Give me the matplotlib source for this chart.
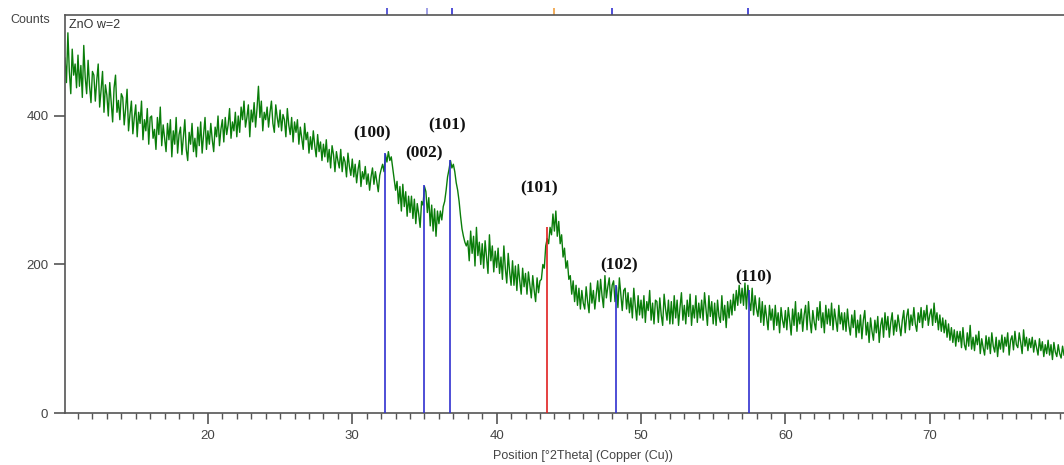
import matplotlib.pyplot as plt
import matplotlib.transforms as mtransforms
import numpy as np

# XRD scan of ZnO, 2theta from 10.1 to 79.3 deg (0.1 deg step), counts
theta_start = 10.1
theta_end = 79.3
counts = [
    478, 445, 512, 460, 430, 490, 455, 470, 438, 482,
    440, 468, 425, 495, 452, 430, 475, 441, 418, 460,
    455, 420, 448, 470, 412, 435, 460, 405, 442, 428,
    400, 445, 418, 392, 438, 455, 405, 421, 395, 430,
    425, 388, 410, 436, 380, 402, 420, 376, 398, 415,
    372, 405, 390, 420, 368, 395, 380, 410, 362, 398,
    400, 370, 382, 355, 398, 375, 412, 360, 388, 370,
    352, 390, 368, 395, 345, 380, 362, 398, 350, 375,
    385, 348, 372, 395, 355, 340, 378, 362, 390, 352,
    370, 345, 385, 360, 392, 350, 375, 398, 355, 380,
    362, 390, 368, 352, 385, 372, 400, 360, 382, 395,
    365, 398, 375, 388, 410, 370, 392, 380, 405, 372,
    400, 378, 412, 395, 420, 385, 398, 415, 372, 408,
    392, 418, 385, 410, 440, 398, 420, 380, 405, 395,
    412, 385, 405, 420, 390, 378, 415, 398, 385, 408,
    380, 402, 395, 372, 410, 388, 375, 398, 365, 392,
    378, 395, 362, 385, 370, 355, 390, 368, 378, 350,
    372, 355, 380, 360, 345, 375, 352, 365, 340, 362,
    345, 368, 338, 355, 330, 360, 348, 325, 352, 340,
    330, 355, 325, 345, 338, 318, 350, 332, 320, 342,
    318, 335, 310, 328, 340, 305, 325, 315, 332, 308,
    322, 300, 318, 330, 308, 325, 312, 298, 320, 328,
    335, 325, 348, 338, 352, 340, 345, 330, 315, 300,
    312, 282, 305, 272, 308, 278, 298, 265, 292, 270,
    292, 262, 288, 255, 282, 268, 250, 285, 280, 305,
    298, 270, 290, 252, 280, 245, 275, 238, 272, 255,
    272, 260, 278, 285, 300, 318, 328, 340, 330, 335,
    325, 310, 300, 285, 265, 248, 238, 230, 225, 232,
    205, 245, 215, 238, 198, 250, 212, 230, 200, 228,
    195, 232, 210, 188, 240, 205, 225, 190, 218, 196,
    222, 188, 210, 180, 225, 195, 175, 215, 190, 172,
    205, 172, 198, 165, 200, 178, 160, 195, 170, 188,
    160, 190, 172, 155, 185, 165, 150, 182, 162, 178,
    180, 200, 195, 225, 235, 228, 250, 240, 268, 245,
    272, 238, 258, 228, 240, 210, 222, 195, 205, 180,
    185, 160, 178, 150, 172, 145, 168, 140, 165, 148,
    140, 170, 150, 135, 175, 148, 165, 140, 160, 178,
    150, 180, 158, 142, 185, 155, 170, 182, 150, 172,
    178, 150, 170, 142, 182, 160, 138, 165, 168, 140,
    162, 135, 155, 128, 168, 145, 125, 158, 132, 152,
    128, 158, 122, 150, 138, 165, 125, 148, 120, 152,
    150, 122, 155, 132, 118, 160, 140, 125, 152, 120,
    150, 120, 158, 128, 152, 118, 142, 162, 125, 145,
    120, 152, 130, 160, 118, 145, 128, 158, 122, 148,
    128, 152, 125, 162, 140, 118, 158, 130, 150, 120,
    148, 118, 152, 130, 122, 158, 125, 145, 115, 150,
    128, 152, 132, 160, 138, 165, 145, 172, 148, 168,
    145, 175, 140, 172, 150, 138, 168, 132, 158, 140,
    130, 155, 122, 150, 118, 145, 128, 112, 145, 125,
    140, 112, 145, 118, 135, 108, 142, 125, 115, 138,
    112, 142, 125, 105, 140, 118, 150, 110, 135, 120,
    140, 110, 132, 145, 112, 150, 125, 108, 138, 122,
    112, 142, 125, 150, 115, 135, 108, 145, 120, 140,
    118, 148, 112, 140, 125, 110, 145, 120, 135, 112,
    135, 110, 140, 118, 105, 132, 115, 138, 102, 125,
    108, 132, 100, 125, 138, 105, 122, 95, 128, 110,
    98, 125, 108, 130, 95, 118, 128, 102, 135, 112,
    130, 102, 122, 135, 105, 125, 110, 132, 118, 104,
    125, 138, 108, 130, 140, 112, 132, 118, 142, 120,
    110, 135, 122, 142, 115, 138, 125, 145, 118, 132,
    140, 118, 148, 122, 135, 112, 132, 110, 128, 108,
    125, 102, 120, 98, 115, 95, 112, 90, 110, 96,
    110, 88, 115, 92, 85, 108, 90, 118, 86, 102,
    84, 105, 92, 110, 80, 100, 88, 78, 104, 86,
    102, 80, 108, 90, 82, 102, 76, 98, 86, 105,
    82, 102, 90, 108, 78, 98, 104, 85, 110, 92,
    88, 108, 95, 80, 112, 90, 102, 84, 100, 88,
    102, 82, 98, 88, 78, 100, 84, 96, 76, 92,
    80, 98, 78, 92, 72, 95, 82, 76, 92, 80,
    74, 90, 78,
]
two_theta = np.linspace(theta_start, theta_end, len(counts))

# reference peak sticks
peak_pos = [32.3, 35.0, 36.8, 43.5, 48.3, 57.5]
peak_height = [350, 307, 341, 250, 172, 166]
peak_colors = ['#3030d0', '#3030d0', '#3030d0', '#e02020', '#3030d0', '#3030d0']

# hkl labels
hkl_labels = ['(100)', '(002)', '(101)', '(101)', '(102)', '(110)']
hkl_x = [31.36, 34.96, 36.55, 42.92, 48.46, 57.81]
hkl_y = [377, 349, 387, 303, 199, 183]

# small markers above the top axis
mark_pos = [32.4, 35.2, 36.9, 44.0, 48.0, 57.4]
mark_colors = ['#4040d0', '#9090e0', '#3030d0', '#f0a040', '#3030d0', '#3030d0']

plt.rcParams['font.family'] = ['Liberation Sans', 'DejaVu Sans']

fig = plt.figure(figsize=(10.64, 4.65), dpi=100)
ax = fig.add_axes([65 / 1064, 1 - 413 / 465, 1 - 65 / 1064, (413 - 15) / 465])

ax.plot(two_theta, counts, color='#0a7d0a', linewidth=1.0, zorder=2)
ax.vlines(peak_pos, 0, peak_height, colors=peak_colors, linewidth=1.2, zorder=3)

for lab, x, y in zip(hkl_labels, hkl_x, hkl_y):
    ax.text(x, y, lab, ha='center', va='center', fontsize=12.5,
            fontweight='bold', family='Liberation Serif', color='#111111')

trans = mtransforms.blended_transform_factory(ax.transData, ax.transAxes)
ax.vlines(mark_pos, 1.0, 1.018, colors=mark_colors, linewidth=1.2,
          transform=trans, clip_on=False)

ax.set_xlim(theta_start, theta_end)
ax.set_ylim(0, 536)
ax.set_xticks([20, 30, 40, 50, 60, 70])
ax.set_xticks(np.arange(11, 80, 1), minor=True)
ax.set_yticks([0, 200, 400])

for s in ['left', 'bottom', 'top']:
    ax.spines[s].set_color('#555555')
    ax.spines[s].set_linewidth(1.2)
ax.spines['right'].set_visible(False)

ax.tick_params(axis='both', which='major', length=8, width=1.2, color='#555555',
               labelsize=9.5, labelcolor='#444444', pad=4)
ax.tick_params(axis='x', which='minor', length=4, width=1.0, color='#555555')

fig.text(10 / 1064, 1 - 20 / 465, 'Counts', fontsize=9, color='#444444', va='center')
ax.text(0.004, 0.99, 'ZnO w=2', transform=ax.transAxes, fontsize=9,
        color='#333333', va='top', ha='left')
fig.text(583 / 1064, 1 - 456 / 465, 'Position [°2Theta] (Copper (Cu))',
         fontsize=9, color='#444444', ha='center', va='center')

fig.savefig('out.png', dpi=100)
